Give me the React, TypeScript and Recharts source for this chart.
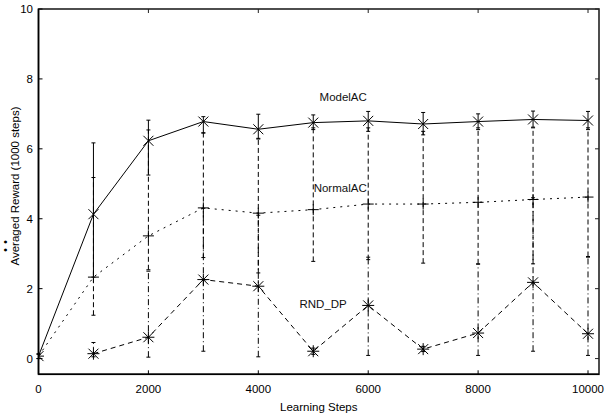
import { Customized, ErrorBar, Line, LineChart, ReferenceDot, XAxis, YAxis } from "recharts";

const STEPS = [0, 1000, 2000, 3000, 4000, 5000, 6000, 7000, 8000, 9000, 10000];

const MODEL_AC = [0.07, 4.13, 6.23, 6.78, 6.56, 6.75, 6.8, 6.71, 6.78, 6.84, 6.81];
const MODEL_LO = [0.0, 2.33, 5.25, 6.45, 6.28, 6.55, 6.5, 6.4, 6.55, 6.62, 6.55];
const MODEL_HI = [0.12, 6.17, 6.82, 6.92, 6.99, 6.97, 7.07, 7.04, 7.0, 7.08, 7.07];

const NORMAL_AC = [0.07, 2.33, 3.51, 4.31, 4.16, 4.26, 4.42, 4.42, 4.47, 4.55, 4.62];
const NORMAL_LO = [0.0, 1.24, 2.54, 2.89, 2.45, 2.78, 2.83, 2.73, 2.71, 2.71, 2.92];
const NORMAL_HI = [0.14, 5.18, 6.54, 6.46, 6.3, 6.6, 6.6, 6.5, 6.6, 6.6, 6.6];

const RND_STEPS = [1000, 2000, 3000, 4000, 5000, 6000, 7000, 8000, 9000, 10000];
const RND_DP = [0.14, 0.61, 2.26, 2.07, 0.21, 1.52, 0.27, 0.73, 2.18, 0.71];
const RND_LO = [0.05, 0.04, 0.21, 0.05, 0.12, 0.09, 0.2, 0.09, 0.21, 0.09];
const RND_HI = [0.46, 2.5, 4.3, 4.1, 0.3, 2.9, 0.35, 2.7, 4.6, 2.9];

const X_MAX = 10200;
const Y_MIN = -0.45;
const Y_MAX = 10;
const X_TICKS = [0, 2000, 4000, 6000, 8000, 10000];
const Y_TICKS = [0, 2, 4, 6, 8, 10];

const NOTES = [
  { text: "ModelAC", x: 5545, y: 7.48 },
  { text: "NormalAC", x: 5490, y: 4.88 },
  { text: "RND_DP", x: 5180, y: 1.56 },
];

const FONT = '"Liberation Sans", Arial, Helvetica, sans-serif';
const FS = 11.5;

// plot box (follows from the chart margins and axis sizes below)
const W = 606;
const H = 414;
const M = { top: 9, right: 7, left: 8, bottom: 0 };
const Y_AXIS_W = 30.5;
const X_AXIS_H = 39.7;
const BOX = {
  l: M.left + Y_AXIS_W,
  r: W - M.right,
  t: M.top,
  b: H - M.bottom - X_AXIS_H,
};

function rows(xs: number[], ys: number[], lo: number[], hi: number[]) {
  return xs.map((x, i) => ({ x, y: ys[i], err: [ys[i] - lo[i], hi[i] - ys[i]] }));
}

const modelRows = rows(STEPS, MODEL_AC, MODEL_LO, MODEL_HI);
const normalRows = rows(STEPS, NORMAL_AC, NORMAL_LO, NORMAL_HI);
const rndRows = rows(RND_STEPS, RND_DP, RND_LO, RND_HI);

function cross(props: any) {
  const { cx, cy, index } = props;
  if (cx == null || cy == null) return <g key={`c${index}`} />;
  const s = 5;
  return (
    <g key={`c${index}`} stroke="#000" strokeWidth={1}>
      <line x1={cx - s} y1={cy - s} x2={cx + s} y2={cy + s} />
      <line x1={cx - s} y1={cy + s} x2={cx + s} y2={cy - s} />
    </g>
  );
}

function plus(props: any) {
  const { cx, cy, index } = props;
  if (cx == null || cy == null) return <g key={`p${index}`} />;
  const s = 5.5;
  return (
    <g key={`p${index}`} stroke="#000" strokeWidth={1}>
      <line x1={cx - s} y1={cy} x2={cx + s} y2={cy} />
      <line x1={cx} y1={cy - s} x2={cx} y2={cy + s} />
    </g>
  );
}

function star(props: any) {
  const { cx, cy, index } = props;
  if (cx == null || cy == null) return <g key={`s${index}`} />;
  const s = 6;
  const d = 5;
  return (
    <g key={`s${index}`} stroke="#000" strokeWidth={1}>
      <line x1={cx - s} y1={cy} x2={cx + s} y2={cy} />
      <line x1={cx} y1={cy - s} x2={cx} y2={cy + s} />
      <line x1={cx - d} y1={cy - d} x2={cx + d} y2={cy + d} />
      <line x1={cx - d} y1={cy + d} x2={cx + d} y2={cy - d} />
    </g>
  );
}

// axis titles plus the box outline with inward ticks on top/right
function Overlay() {
  const px = (v: number) => BOX.l + (v / X_MAX) * (BOX.r - BOX.l);
  const py = (v: number) => BOX.b - ((v - Y_MIN) / (Y_MAX - Y_MIN)) * (BOX.b - BOX.t);
  return (
    <g>
      <rect
        x={BOX.l}
        y={BOX.t}
        width={BOX.r - BOX.l}
        height={BOX.b - BOX.t}
        fill="none"
        stroke="#222"
        strokeWidth={1.6}
      />
      {X_TICKS.map((t) => (
        <rect key={`tt${t}`} x={px(t) - 0.5} y={BOX.t} width={1} height={4} fill="#222" />
      ))}
      {Y_TICKS.map((t) => (
        <rect key={`rt${t}`} x={BOX.r - 4} y={py(t) - 0.5} width={4} height={1} fill="#222" />
      ))}
      <g fontFamily={FONT} fontSize={FS} fill="#000">
        <text x={19} y={186} textAnchor="middle" transform="rotate(-90 19 186)">
          Averaged Reward (1000 steps)
        </text>
        <text x={9} y={244} textAnchor="middle" letterSpacing={4} transform="rotate(-90 9 244)">
          ••
        </text>
      </g>
    </g>
  );
}

export default function App() {
  const tickStyle = { fill: "#000", fontSize: FS, fontFamily: FONT };
  return (
    <div style={{ position: "absolute", left: 0, top: 0, width: W, height: H, background: "#fff" }}>
      <LineChart width={W} height={H} margin={M} style={{ fontFamily: FONT }}>
        <XAxis
          dataKey="x"
          type="number"
          domain={[0, X_MAX]}
          allowDataOverflow
          ticks={X_TICKS}
          interval={0}
          height={X_AXIS_H}
          tick={tickStyle}
          tickSize={-4}
          tickMargin={14.6}
          axisLine={{ stroke: "#000", strokeWidth: 1.5 }}
          tickLine={{ stroke: "#000" }}
          label={{ value: "Learning Steps", position: "insideBottom", offset: 3, fill: "#000", fontSize: FS }}
        />
        <YAxis
          type="number"
          domain={[Y_MIN, Y_MAX]}
          allowDataOverflow
          ticks={Y_TICKS}
          interval={0}
          width={Y_AXIS_W}
          tick={tickStyle}
          tickSize={-4}
          tickMargin={9.5}
          axisLine={{ stroke: "#000", strokeWidth: 1.5 }}
          tickLine={{ stroke: "#000" }}
        />
        <Line
          data={rndRows}
          dataKey="y"
          type="linear"
          stroke="#000"
          strokeWidth={1}
          strokeDasharray="5 4"
          dot={star}
          activeDot={false}
          isAnimationActive={false}
        >
          <ErrorBar dataKey="err" direction="y" width={2} stroke="#000" strokeWidth={1} strokeDasharray="6 3 1 3" />
        </Line>
        <Line
          data={normalRows}
          dataKey="y"
          type="linear"
          stroke="#000"
          strokeWidth={1}
          strokeDasharray="2 5"
          dot={plus}
          activeDot={false}
          isAnimationActive={false}
        >
          <ErrorBar dataKey="err" direction="y" width={2} stroke="#000" strokeWidth={1} strokeDasharray="5 3" />
        </Line>
        <Line
          data={modelRows}
          dataKey="y"
          type="linear"
          stroke="#000"
          strokeWidth={1}
          dot={cross}
          activeDot={false}
          isAnimationActive={false}
        >
          <ErrorBar dataKey="err" direction="y" width={2} stroke="#000" strokeWidth={1} />
        </Line>
        {NOTES.map((n) => (
          <ReferenceDot
            key={n.text}
            x={n.x}
            y={n.y}
            r={0}
            fill="none"
            stroke="none"
            label={{ value: n.text, position: "center", fill: "#111", fontSize: FS }}
          />
        ))}
        <Customized component={Overlay} />
      </LineChart>
    </div>
  );
}
